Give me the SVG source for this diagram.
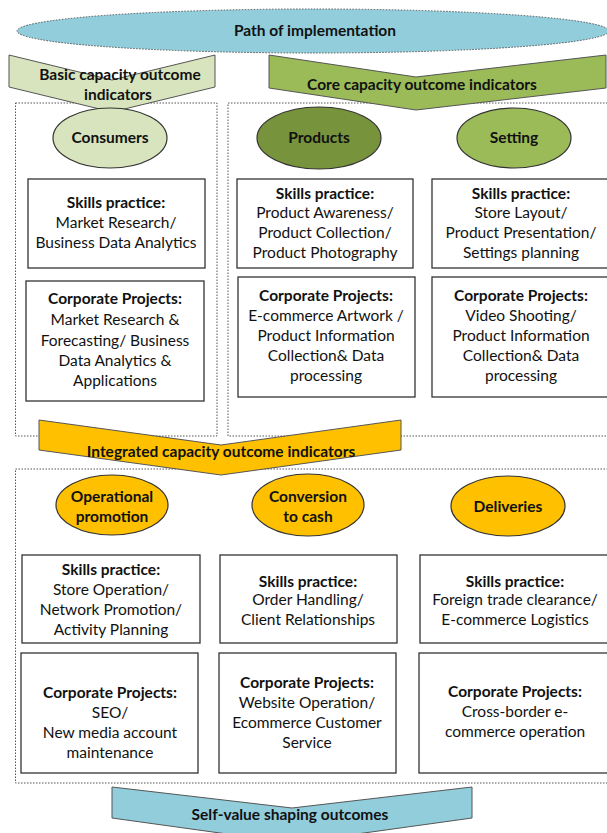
<svg xmlns="http://www.w3.org/2000/svg" width="607" height="833" viewBox="0 0 607 833">
<style>
text{font-family:Lato,"Liberation Sans",sans-serif;font-size:15.5px;fill:#111;text-anchor:middle}
.b{font-weight:bold}
.dot{fill:none;stroke:#555;stroke-width:1;stroke-dasharray:1.5 1.5}
.box{fill:#fff;stroke:#333;stroke-width:1.3}
.chev{stroke:#555;stroke-width:1}
.ell{stroke:#333;stroke-width:1.2}
</style>
<rect width="607" height="833" fill="#fff"/>
<g id="frames">
<rect class="dot" x="15.5" y="103" width="201.5" height="333"/>
<rect class="dot" x="228" y="103" width="384" height="333"/>
<rect class="dot" x="15.5" y="469" width="596.5" height="314"/>
</g>
<g id="path">
<ellipse cx="313" cy="31" rx="296" ry="22" fill="#92CDDC" stroke="#555" stroke-width="1" stroke-dasharray="1.5 1.5"/>
<text class="b" x="315" y="36">Path of implementation</text>
</g>
<g id="basic">
<polygon class="chev" points="9,55 112,80 215,55 215,87 112,112 9,87" fill="#D7E4BD"/>
<text class="b" x="120" y="80">Basic capacity outcome</text>
<text class="b" x="118" y="100">indicators</text>
</g>
<g id="core">
<polygon class="chev" points="269,55 416,77 606,55 606,88 416,110 269,88" fill="#9BBB59"/>
<text class="b" x="422" y="90">Core capacity outcome indicators</text>
</g>
<g id="consumers">
<ellipse class="ell" cx="110" cy="138" rx="57" ry="30" fill="#D7E4BD"/>
<text class="b" x="110" y="143">Consumers</text>
</g>
<g id="products">
<ellipse class="ell" cx="319" cy="138" rx="62" ry="31" fill="#77933C"/>
<text class="b" x="319" y="143">Products</text>
</g>
<g id="setting">
<ellipse class="ell" cx="514" cy="138" rx="57" ry="30" fill="#9BBB59"/>
<text class="b" x="514" y="143">Setting</text>
</g>
<g id="consumers-skills">
<rect class="box" x="28" y="179" width="177" height="89"/>
<text class="b" x="116" y="208">Skills practice:</text>
<text x="116" y="228">Market Research/</text>
<text x="116" y="248">Business Data Analytics</text>
</g>
<g id="consumers-projects">
<rect class="box" x="26" y="281" width="178" height="120"/>
<text class="b" x="115" y="304">Corporate Projects:</text>
<text x="115" y="325">Market Research &amp;</text>
<text x="115" y="346">Forecasting/ Business</text>
<text x="115" y="366">Data Analytics &amp;</text>
<text x="115" y="386">Applications</text>
</g>
<g id="products-skills">
<rect class="box" x="237" y="179" width="176" height="89"/>
<text class="b" x="325" y="199">Skills practice:</text>
<text x="325" y="218">Product Awareness/</text>
<text x="325" y="238">Product Collection/</text>
<text x="325" y="258">Product Photography</text>
</g>
<g id="products-projects">
<rect class="box" x="238" y="277" width="177" height="120"/>
<text class="b" x="326" y="301">Corporate Projects:</text>
<text x="326" y="321">E-commerce Artwork /</text>
<text x="326" y="341">Product Information</text>
<text x="326" y="361">Collection&amp; Data</text>
<text x="326" y="381">processing</text>
</g>
<g id="setting-skills">
<rect class="box" x="432" y="179" width="178" height="89"/>
<text class="b" x="521" y="199">Skills practice:</text>
<text x="521" y="218">Store Layout/</text>
<text x="521" y="238">Product Presentation/</text>
<text x="521" y="258">Settings planning</text>
</g>
<g id="setting-projects">
<rect class="box" x="432" y="277" width="178" height="120"/>
<text class="b" x="521" y="301">Corporate Projects:</text>
<text x="521" y="321">Video Shooting/</text>
<text x="521" y="341">Product Information</text>
<text x="521" y="361">Collection&amp; Data</text>
<text x="521" y="381">processing</text>
</g>
<g id="integrated">
<polygon class="chev" points="39,420 221,445 401,420 401,450 221,475 39,450" fill="#FFC000"/>
<text class="b" x="221" y="457">Integrated capacity outcome indicators</text>
</g>
<g id="operational">
<ellipse class="ell" cx="112" cy="505" rx="56" ry="30" fill="#FFC000"/>
<text class="b" x="112" y="502">Operational</text>
<text class="b" x="112" y="522">promotion</text>
</g>
<g id="conversion">
<ellipse class="ell" cx="308" cy="505" rx="56" ry="31" fill="#FFC000"/>
<text class="b" x="308" y="502">Conversion</text>
<text class="b" x="308" y="522">to cash</text>
</g>
<g id="deliveries">
<ellipse class="ell" cx="508" cy="506" rx="57" ry="30" fill="#FFC000"/>
<text class="b" x="508" y="512">Deliveries</text>
</g>
<g id="operational-skills">
<rect class="box" x="22" y="555" width="178" height="88"/>
<text class="b" x="111" y="575">Skills practice:</text>
<text x="111" y="595">Store Operation/</text>
<text x="111" y="615">Network Promotion/</text>
<text x="111" y="635">Activity Planning</text>
</g>
<g id="conversion-skills">
<rect class="box" x="220" y="555" width="177" height="88"/>
<text class="b" x="308" y="587">Skills practice:</text>
<text x="308" y="605">Order Handling/</text>
<text x="308" y="625">Client Relationships</text>
</g>
<g id="deliveries-skills">
<rect class="box" x="420" y="555" width="190" height="88"/>
<text class="b" x="515" y="587">Skills practice:</text>
<text x="515" y="605">Foreign trade clearance/</text>
<text x="515" y="625">E-commerce Logistics</text>
</g>
<g id="operational-projects">
<rect class="box" x="21" y="653" width="177" height="120"/>
<text class="b" x="110" y="698">Corporate Projects:</text>
<text x="110" y="718">SEO/</text>
<text x="110" y="738">New media account</text>
<text x="110" y="758">maintenance</text>
</g>
<g id="conversion-projects">
<rect class="box" x="219" y="653" width="177" height="120"/>
<text class="b" x="307" y="688">Corporate Projects:</text>
<text x="307" y="708">Website Operation/</text>
<text x="307" y="728">Ecommerce Customer</text>
<text x="307" y="748">Service</text>
</g>
<g id="deliveries-projects">
<rect class="box" x="419" y="653" width="191" height="120"/>
<text class="b" x="515" y="697">Corporate Projects:</text>
<text x="515" y="717">Cross-border e-</text>
<text x="515" y="737">commerce operation</text>
</g>
<g id="selfvalue">
<polygon class="chev" points="112,787 292,808 472,787 472,818 292,843 112,818" fill="#92CDDC"/>
<text class="b" x="290" y="820">Self-value shaping outcomes</text>
</g>
<g id="connectors"></g>
</svg>
